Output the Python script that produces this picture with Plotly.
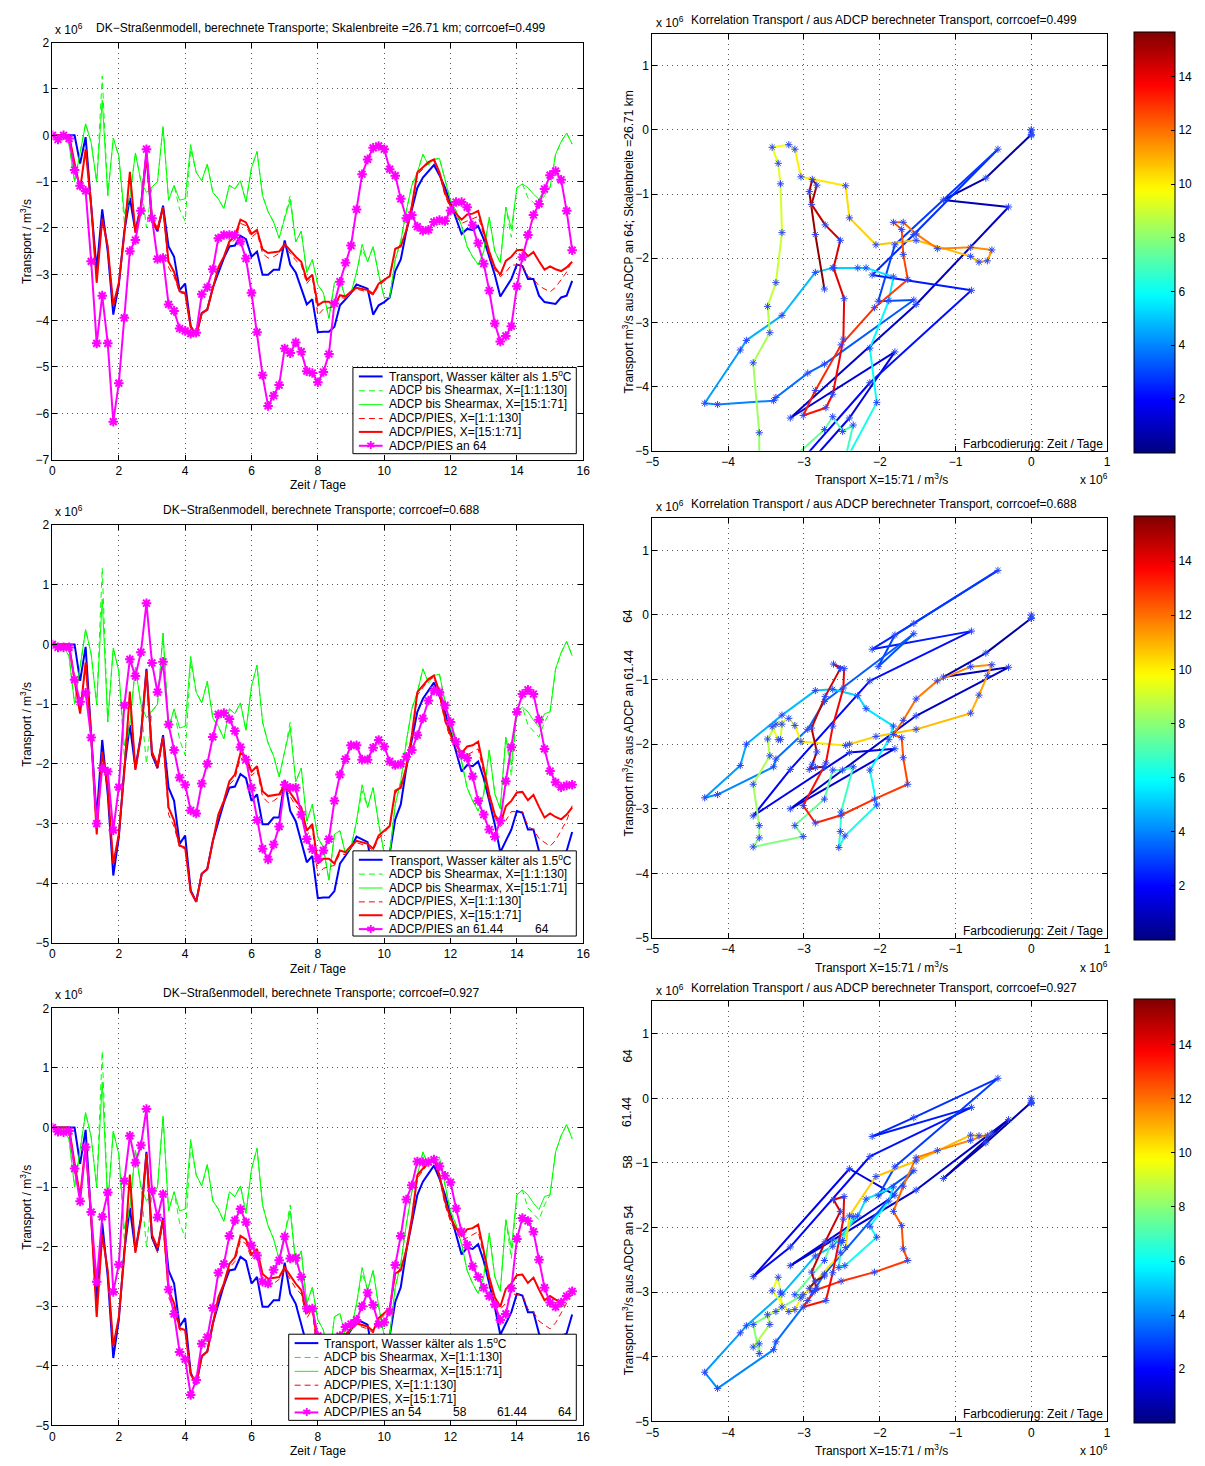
import numpy as np
import plotly.graph_objects as go

# ---------------------------------------------------------------- data
# time axis: 4-hourly samples, days since start
n_steps = 95
time_days = [i / 6 for i in range(n_steps)]

# transport of water colder than 1.5 degC (model)
transport_cold = [
    0, 0, 0, 0, 0, -0.61,
    -0.04, -1.52, -2.9, -1.6, -2.51, -3.87,
    -3.23, -2.07, -1.35, -2.07, -1.52, -0.41,
    -1.85, -2.07, -1.52, -2.4, -2.62, -3.34,
    -3.2, -4.12, -4.31, -3.84, -3.76, -3.29,
    -2.96, -2.65, -2.4, -2.38, -2.17, -2.24,
    -2.62, -2.51, -3.01, -3.01, -2.9, -2.9,
    -2.27, -2.79, -2.96, -3.29, -3.65, -3.54,
    -4.25, -4.24, -4.24, -4.13, -3.67, -3.54,
    -3.4, -3.22, -3.26, -3.31, -3.87, -3.67,
    -3.6, -3.5, -2.93, -2.68, -2.07, -1.63,
    -1.13, -0.91, -0.77, -0.64, -0.86, -1.13,
    -1.46, -1.8, -2.13, -2.02, -2.04, -1.96,
    -2.24, -2.62, -3.01, -3.48, -3.28, -3.1,
    -2.79, -2.82, -3.1, -3.1, -3.46, -3.6,
    -3.62, -3.64, -3.5, -3.46, -3.14]

# ADCP down to shear maximum, X=[1:1:130]
adcp_shear_full = [
    0, 0, -0.02, -0.2, -1.0, -0.35,
    0.25, -0.16, -1.01, 1.28, -1.3, -0.06,
    -0.45, -1.9, -1.33, -0.38, -1.0, -2.0,
    -1.12, -1.0, 0.19, -1.4, -1.08, -1.6,
    -1.85, -0.3, -0.8, -0.98, -0.62, -1.23,
    -1.37, -1.58, -1.08, -1.16, -0.98, -1.44,
    -0.70, -0.35, -1.3, -1.65, -1.87, -2.22,
    -1.79, -1.3, -2.3, -2.07, -2.96, -2.68,
    -3.23, -3.4, -3.95, -3.18, -3.12, -3.51,
    -3.4, -2.96, -2.45, -2.73, -2.4, -3.0,
    -3.5, -3.5, -2.68, -2.29, -1.63, -1.08,
    -0.8, -0.41, -0.64, -0.52, -0.5, -0.97,
    -1.41, -1.63, -1.96, -2.4, -2.62, -2.79,
    -2.51, -1.77, -2.5, -2.75, -1.55, -2.2,
    -1.13, -1.05, -1.35, -1.45, -1.55, -1.3,
    -1.13, -0.41, -0.14, 0.05, -0.19]

# ADCP down to shear maximum, X=[15:1:71]
adcp_shear_core = [
    0, 0, -0.02, -0.2, -1.0, -0.35,
    0.25, -0.16, -1.01, 0.76, -1.3, -0.06,
    -0.45, -1.7, -1.33, -0.38, -1.0, -1.23,
    -1.12, -1.0, 0.19, -1.4, -1.08, -1.4,
    -1.37, -0.2, -0.8, -0.98, -0.62, -1.23,
    -1.37, -1.58, -1.08, -1.16, -0.98, -1.44,
    -0.70, -0.35, -1.3, -1.65, -1.87, -2.22,
    -1.79, -1.4, -2.3, -2.07, -2.96, -2.68,
    -3.23, -3.4, -3.95, -3.18, -3.12, -3.51,
    -3.4, -2.96, -2.35, -2.73, -2.4, -3.0,
    -3.5, -3.5, -2.68, -2.29, -1.63, -1.08,
    -0.8, -0.41, -0.64, -0.52, -0.5, -0.97,
    -1.41, -1.63, -1.96, -2.4, -2.62, -2.79,
    -2.51, -1.77, -2.5, -2.75, -1.55, -2.02,
    -1.13, -1.05, -1.13, -1.27, -1.38, -1.16,
    -1.13, -0.41, -0.14, 0.05, -0.19]

# ADCP/PIES, X=[1:1:130]
pies_full = [
    0, 0, 0, 0, -0.6, -1.16,
    -0.3, -1.52, -3.18, -1.8, -2.4, -3.67,
    -3.18, -2.13, -0.79, -2.1, -1.55, -0.44,
    -1.85, -2.1, -1.6, -2.85, -3.05, -3.4,
    -3.42, -4.15, -4.3, -3.85, -3.78, -3.3,
    -2.9, -2.65, -2.35, -2.25, -1.9, -1.95,
    -2.2, -2.1, -2.55, -2.65, -2.62, -2.55,
    -2.4, -2.55, -2.7, -2.8, -3.2, -3.05,
    -3.88, -3.75, -3.72, -3.7, -3.5, -3.52,
    -3.4, -3.32, -3.35, -3.38, -3.45, -3.25,
    -3.15, -3.05, -2.5, -2.35, -2.1, -1.6,
    -0.85, -0.72, -0.6, -0.55, -0.85, -1.3,
    -1.58, -1.75, -1.9, -1.85, -1.8, -1.75,
    -2.15, -2.6, -2.9, -3.05, -2.95, -2.8,
    -2.8, -2.8, -3.05, -3.1, -3.25, -3.32,
    -3.38, -3.28, -3.12, -2.95, -2.7]

# ADCP/PIES, X=[15:1:71]
pies_core = [
    0, 0, 0, 0, -0.6, -1.16,
    -0.3, -1.52, -3.18, -1.8, -2.4, -3.67,
    -3.18, -2.13, -0.79, -2.1, -1.55, -0.44,
    -1.8, -2.02, -1.55, -2.73, -2.95, -3.37,
    -3.4, -4.14, -4.31, -3.84, -3.76, -3.29,
    -2.85, -2.62, -2.29, -2.18, -1.82, -1.88,
    -2.13, -2.04, -2.46, -2.54, -2.52, -2.51,
    -2.35, -2.49, -2.62, -2.73, -3.12, -3.01,
    -3.67, -3.59, -3.59, -3.67, -3.45, -3.48,
    -3.37, -3.29, -3.31, -3.34, -3.42, -3.2,
    -3.12, -3.04, -2.45, -2.4, -2.05, -1.52,
    -0.8, -0.69, -0.58, -0.52, -0.8, -1.24,
    -1.52, -1.69, -1.82, -1.71, -1.69, -1.63,
    -2.07, -2.51, -2.85, -3.01, -2.71, -2.62,
    -2.48, -2.47, -2.61, -2.52, -2.72, -2.9,
    -2.83, -2.89, -2.93, -2.85, -2.73]

# ADCP/PIES at single station 64
pies_at_64 = [
    0, -0.09, 0, -0.07, -0.75, -1.09,
    -1.2, -2.72, -4.49, -3.46, -4.49, -6.18,
    -5.35, -3.94, -2.5, -2.26, -1.63, -0.3,
    -1.79, -2.67, -2.65, -3.65, -3.79, -4.17,
    -4.22, -4.28, -4.26, -3.43, -3.28, -2.89,
    -2.22, -2.15, -2.15, -2.15, -2.29, -2.66,
    -3.4, -4.25, -5.18, -5.84, -5.62, -5.39,
    -4.6, -4.7, -4.47, -4.67, -5.09, -5.13,
    -5.33, -5.11, -4.72, -3.63, -3.16, -2.75,
    -2.38, -1.6, -0.84, -0.52, -0.27, -0.23,
    -0.3, -0.73, -0.87, -1.37, -1.79, -1.72,
    -1.97, -2.06, -2.04, -1.87, -1.83, -1.85,
    -1.62, -1.44, -1.44, -1.55, -1.94, -2.33,
    -2.77, -3.35, -4.06, -4.45, -4.33, -4.12,
    -3.26, -2.63, -2.15, -1.72, -1.48, -1.16,
    -0.86, -0.77, -0.96, -1.63, -2.48]

# ADCP/PIES from stations 61.44 and 64
pies_at_61_64 = [
    0, -0.05, -0.05, -0.05, -0.59, -0.96,
    -0.81, -1.56, -3.0, -2.07, -2.13, -3.11,
    -2.39, -1.02, -0.25, -0.53, -0.13, 0.69,
    -0.31, -0.80, -0.29, -1.34, -1.77, -2.23,
    -2.35, -2.78, -2.83, -2.33, -2.0, -1.55,
    -1.17, -1.15, -1.25, -1.45, -1.72, -1.93,
    -2.40, -2.94, -3.42, -3.60, -3.35, -3.05,
    -2.35, -2.4, -2.4, -2.85, -3.26, -3.43,
    -3.59, -3.45, -3.26, -2.62, -2.18, -1.92,
    -1.69, -1.69, -1.93, -1.93, -1.73, -1.6,
    -1.71, -1.96, -2.02, -2.0, -1.88, -1.77,
    -1.52, -1.24, -0.94, -0.77, -0.8, -1.02,
    -1.3, -1.63, -1.85, -1.9, -2.21, -2.62,
    -2.85, -3.1, -3.22, -2.95, -2.29, -1.72,
    -1.13, -0.83, -0.76, -0.83, -1.26, -1.75,
    -2.12, -2.31, -2.39, -2.36, -2.35]

# ADCP/PIES from stations 54, 58, 61.44 and 64
pies_at_54_64 = [
    0, -0.07, -0.08, -0.06, -0.69, -1.24,
    -0.33, -1.42, -2.59, -1.5, -1.09, -2.76,
    -2.3, -0.9, -0.14, -0.59, -0.3, 0.31,
    -1.06, -1.51, -1.12, -2.72, -3.13, -3.77,
    -3.89, -4.49, -4.24, -3.63, -3.52, -3.03,
    -2.44, -2.29, -1.82, -1.56, -1.37, -1.59,
    -1.98, -2.15, -2.59, -2.62, -2.39, -2.23,
    -1.83, -2.2, -2.19, -2.51, -3.04, -3.04,
    -3.5, -3.95, -3.8, -3.85, -3.5, -3.35,
    -3.3, -3.23, -3.0, -2.77, -2.98, -3.3,
    -3.27, -3.09, -2.31, -1.82, -1.21, -0.97,
    -0.57, -0.58, -0.58, -0.54, -0.65, -0.81,
    -0.92, -1.36, -1.75, -1.97, -2.33, -2.51,
    -2.69, -2.83, -2.97, -3.23, -3.13, -2.7,
    -1.87, -1.52, -1.57, -1.75, -2.22, -2.69,
    -2.94, -3.01, -2.94, -2.83, -2.75]

row_titles_left = [
    "DK\u2212Straßenmodell, berechnete Transporte; Skalenbreite =26.71 km; corrcoef=0.499",
    "DK\u2212Straßenmodell, berechnete Transporte; corrcoef=0.688",
    "DK\u2212Straßenmodell, berechnete Transporte; corrcoef=0.927",
]
row_titles_right = [
    "Korrelation Transport / aus ADCP berechneter Transport, corrcoef=0.499",
    "Korrelation Transport / aus ADCP berechneter Transport, corrcoef=0.688",
    "Korrelation Transport / aus ADCP berechneter Transport, corrcoef=0.927",
]
series_names = [
    "Transport, Wasser kälter als 1.5<sup>o</sup>C",
    "ADCP bis Shearmax, X=[1:1:130]",
    "ADCP bis Shearmax, X=[15:1:71]",
    "ADCP/PIES, X=[1:1:130]",
    "ADCP/PIES, X=[15:1:71]",
]
# station legend label: leading text, then further station numbers (text, x centre px)
station_legend = [
    ("ADCP/PIES an 64", []),
    ("ADCP/PIES an 61.44", [("64", 541)]),
    ("ADCP/PIES an 54", [("58", 458), ("61.44", 511), ("64", 565)]),
]
station_series = [pies_at_64, pies_at_61_64, pies_at_54_64]
left_ymin = [-7, -5, -5]

# ---------------------------------------------------------------- layout helpers
W, H = 1205, 1466
FONT = "Liberation Sans, Arial, Helvetica, sans-serif"
FS = 12


def px(x):
    return x / W


def py(y):
    return 1 - y / H


def jet(v):
    v = min(max(v, 0.0), 1.0)
    r = min(max(1.5 - abs(4 * v - 3), 0), 1)
    g = min(max(1.5 - abs(4 * v - 2), 0), 1)
    b = min(max(1.5 - abs(4 * v - 1), 0), 1)
    return "rgb(%d,%d,%d)" % (round(r * 255), round(g * 255), round(b * 255))


t_max = time_days[-1]
jet_scale = [[k / 63, jet(k / 63)] for k in range(64)]

# pixel frames of the axes (left, right, top, bottom)
left_frames = [(46, 583, 36, 457), (46, 583, 523, 945), (46, 583, 1011, 1432)]
right_frames = [(653, 1113, 27, 448), (653, 1113, 516, 940), (653, 1113, 1004, 1428)]
# legend boxes (x0, x1, y0, y1) in pixels
legend_boxes = [(350, 576, 364, 451), (350, 576, 852, 938), (285, 576, 1340, 1427)]

BLUE = "rgb(0,0,255)"
GREEN = "rgb(0,255,0)"
RED = "rgb(255,0,0)"
MAGENTA = "rgb(255,0,255)"
line_styles = [
    dict(color=BLUE, width=2),
    dict(color=GREEN, width=1, dash="6px,4px"),
    dict(color=GREEN, width=1),
    dict(color=RED, width=1, dash="6px,4px"),
    dict(color=RED, width=2),
]
series_values = [transport_cold, adcp_shear_full, adcp_shear_core, pies_full, pies_core]

fig = go.Figure()
layout = dict(
    width=W, height=H,
    margin=dict(l=0, r=0, t=0, b=0),
    paper_bgcolor="white", plot_bgcolor="white",
    font=dict(family=FONT, size=FS, color="black"),
    showlegend=False,
)
annotations = []
shapes = []

axis_common = dict(
    showline=True, mirror="ticks", linecolor="black", linewidth=1,
    ticks="inside", ticklen=5, tickcolor="black",
    showgrid=True, gridcolor="rgb(90,90,90)", griddash="1px,4px", gridwidth=1,
    zeroline=False, tickfont=dict(family=FONT, size=FS, color="black"),
)


def note(text, x, y, angle=0, xanchor="center", yanchor="middle", size=FS,
         color="black", family=FONT):
    annotations.append(dict(
        text=text, x=px(x), y=py(y), xref="paper", yref="paper",
        showarrow=False, textangle=angle, xanchor=xanchor, yanchor=yanchor,
        font=dict(family=family, size=size, color=color)))


def hline(x0, x1, y, style):
    # odd widths sit on pixel centres so thin samples stay crisp
    yy = y + 0.5 if style["width"] % 2 == 1 else y
    shapes.append(dict(
        type="line", xref="paper", yref="paper", layer="above",
        x0=px(x0), x1=px(x1), y0=py(yy), y1=py(yy),
        line=dict(color=style["color"], width=style["width"],
                  dash=style.get("dash", "solid"))))


for r in range(3):
    lx = 2 * r + 1
    rx = 2 * r + 2
    lname = "" if lx == 1 else str(lx)
    rname = str(rx)
    l0, l1, lt, lb = left_frames[r]
    r0, r1, rt, rb = right_frames[r]

    layout["xaxis" + lname] = dict(
        axis_common, domain=[px(l0), px(l1)], range=[0, 16], dtick=2,
        anchor="y" + lname)
    layout["yaxis" + lname] = dict(
        axis_common, domain=[py(lb), py(lt)], range=[left_ymin[r], 2], dtick=1,
        anchor="x" + lname)
    layout["xaxis" + rname] = dict(
        axis_common, domain=[px(r0), px(r1)], range=[-5, 1],
        tickvals=[-5, -4, -3, -2, -1, 0, 1], anchor="y" + rname)
    layout["yaxis" + rname] = dict(
        axis_common, domain=[py(rb), py(rt)], range=[-5, 1.5],
        tickvals=[-5, -4, -3, -2, -1, 0, 1], anchor="x" + rname)

    # time series
    xa, ya = "x" + lname, "y" + lname
    for name, vals, line in zip(series_names, series_values, line_styles):
        fig.add_trace(go.Scatter(
            x=time_days, y=vals, mode="lines", name=name, line=line,
            xaxis=xa, yaxis=ya, hoverinfo="skip"))
    fig.add_trace(go.Scatter(
        x=time_days, y=station_series[r], mode="lines+markers",
        name=station_legend[r][0],
        line=dict(color=MAGENTA, width=2),
        marker=dict(symbol="asterisk-open", size=8, color=MAGENTA,
                    line=dict(color=MAGENTA, width=2)),
        xaxis=xa, yaxis=ya, hoverinfo="skip"))

    # legend box drawn on top of the curves
    bx0, bx1, by0, by1 = legend_boxes[r]
    shapes.append(dict(
        type="rect", xref="paper", yref="paper", layer="above",
        x0=px(bx0), x1=px(bx1), y0=py(by1), y1=py(by0),
        fillcolor="white", line=dict(color="black", width=1)))
    sx0, sx1 = bx0 + 6, bx0 + 30
    tx = bx0 + 34
    for k in range(6):
        yc = by0 + 9 + 14 * k
        if k < 5:
            hline(sx0, sx1, yc, line_styles[k])
            note(series_names[k], tx, yc, xanchor="left")
        else:
            hline(sx0, sx1, yc, dict(color=MAGENTA, width=2))
            note("\u2731", (sx0 + sx1) / 2, yc, size=11, color=MAGENTA,
                 family="DejaVu Sans")
            label, extras = station_legend[r]
            note(label, tx, yc, xanchor="left")
            for txt, xc in extras:
                note(txt, xc, yc)

    # scatter of transport versus station-based transport, coloured by time
    xr, yr = "x" + rname, "y" + rname
    yvals = station_series[r]
    for i in range(n_steps - 1):
        fig.add_trace(go.Scatter(
            x=[pies_core[i], pies_core[i + 1]], y=[yvals[i], yvals[i + 1]],
            mode="lines", line=dict(color=jet(time_days[i] / t_max), width=2),
            xaxis=xr, yaxis=yr, hoverinfo="skip"))
    fig.add_trace(go.Scatter(
        x=pies_core, y=yvals, mode="markers",
        marker=dict(symbol="asterisk-open", size=6, color="rgb(40,70,255)",
                    line=dict(color="rgb(40,70,255)", width=1)),
        xaxis=xr, yaxis=yr, hoverinfo="skip"))
    # colour bar for time in days
    fig.add_trace(go.Scatter(
        x=[-10], y=[-10], mode="markers",
        marker=dict(color=[0], cmin=0, cmax=t_max, colorscale=jet_scale,
                    showscale=True, size=1,
                    colorbar=dict(
                        x=px(1140), xanchor="left", xpad=0, ypad=0,
                        y=py((rt + rb) / 2), yanchor="middle",
                        len=rb - rt, lenmode="pixels",
                        thickness=41, thicknessmode="pixels",
                        outlinecolor="black", outlinewidth=1,
                        tickvals=[2, 4, 6, 8, 10, 12, 14], ticks="inside",
                        ticklen=4, tickcolor="black",
                        tickfont=dict(family=FONT, size=FS, color="black"))),
        xaxis=xr, yaxis=yr, hoverinfo="skip"))

    # titles and axis labels
    note(row_titles_left[r], 318, lt - 15)
    note(row_titles_right[r], 887, rt - 14)
    note("x 10<sup>6</sup>", l0 + 1, lt - 14, xanchor="left")
    note("x 10<sup>6</sup>", r0 + 2, rt - 12, xanchor="left")
    note("Zeit / Tage", (l0 + l1) / 2, lb + 26)
    note("Transport / m<sup>3</sup>/s", 19, (lt + lb) / 2 - 10, angle=-90)
    note("Transport X=15:71 / m<sup>3</sup>/s", 885, rb + 29)
    note("x 10<sup>6</sup>", 1100, rb + 29)
    note("Farbcodierung: Zeit / Tage", r1 - 2, rb - 7, xanchor="right")

note("Transport m<sup>3</sup>/s aus ADCP an 64; Skalenbreite =26.71 km",
     628, 237, angle=-90)
note("Transport m<sup>3</sup>/s aus ADCP an 61.44", 628, 743, angle=-90)
note("64", 628, 615, angle=-90)
note("Transport m<sup>3</sup>/s aus ADCP an 54", 628, 1296, angle=-90)
note("58", 628, 1166, angle=-90)
note("61.44", 628, 1116, angle=-90)
note("64", 628, 1059, angle=-90)

layout["annotations"] = annotations
layout["shapes"] = shapes
fig.update_layout(**layout)
fig.write_html("out.html")
